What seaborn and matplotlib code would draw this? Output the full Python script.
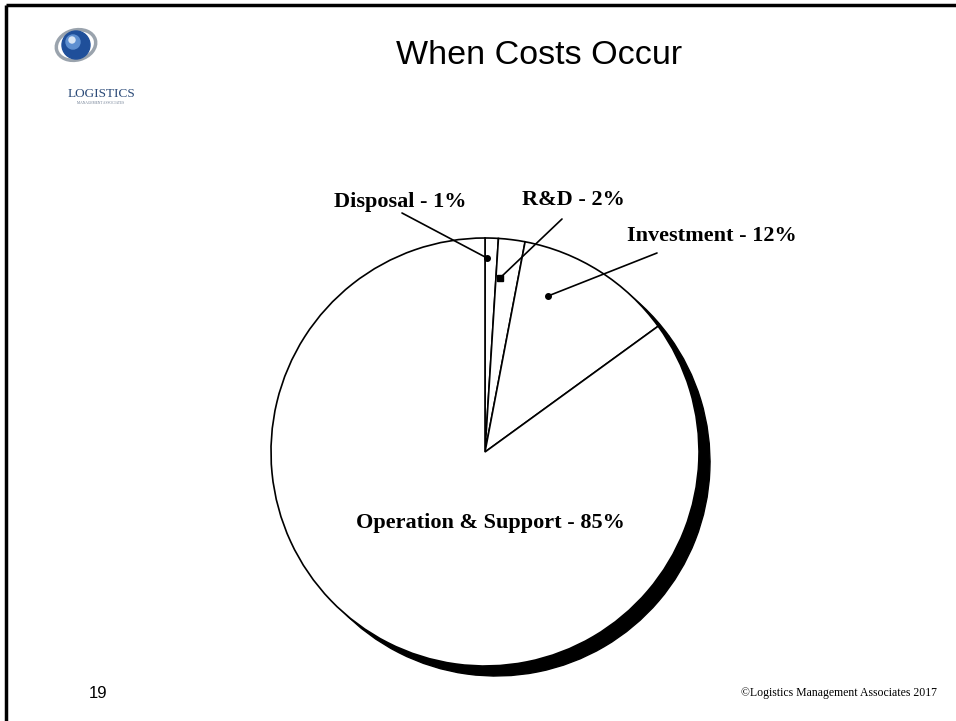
import matplotlib
matplotlib.use("Agg")
import matplotlib.pyplot as plt
import matplotlib.patches as mpatches
import seaborn as sns

# ---- data ----
categories = ["Disposal", "R&D", "Investment", "Operation & Support"]
percent = [1, 2, 12, 85]
title = "When Costs Occur"
slide_number = "19"
copyright_text = "\u00a9Logistics Management Associates 2017"

sns.set_theme(style="white")
plt.rcParams["font.family"] = ["Liberation Sans", "DejaVu Sans"]

W, H = 956, 721
fig = plt.figure(figsize=(W / 100, H / 100), dpi=100)
fig.patch.set_facecolor("white")
ax = fig.add_axes([0, 0, 1, 1])


def px(x, y):
    """pixel (from top-left) -> data coords (y up)"""
    return x, H - y


cx, cy = px(485, 452)
R = 214

# shadow / depth of the pie
ax.pie(percent, startangle=90, counterclock=False, radius=R,
       center=(cx + 11, cy - 10), colors=["black"] * len(percent),
       wedgeprops=dict(edgecolor="black", linewidth=1.0), frame=True)
# main pie
wedges, _ = ax.pie(percent, startangle=90, counterclock=False, radius=R,
                   center=(cx, cy), colors=["white"] * len(percent),
                   wedgeprops=dict(edgecolor="black", linewidth=1.2),
                   frame=True)

ax.set_xlim(0, W)
ax.set_ylim(0, H)
ax.set_aspect("equal")
ax.axis("off")

# labels
serif = ["Liberation Serif", "DejaVu Serif"]
label_pos = [(400, 202), (573, 200), (712, 236), (490, 523)]
for cat, p, (lx, ly) in zip(categories, percent, label_pos):
    ax.text(*px(lx, ly), f"{cat} - {p}%", family=serif, fontweight="bold",
            fontsize=16, ha="center", va="center", color="black")

# leader lines
leaders = [((402, 213), (487, 258), "o"),
           ((562, 219), (500, 278), "s"),
           ((657, 253), (548, 296), "o")]
for (x0, y0), (x1, y1), m in leaders:
    a = px(x0, y0)
    b = px(x1, y1)
    ax.plot([a[0], b[0]], [a[1], b[1]], color="black", lw=1.2)
    ax.plot([b[0]], [b[1]], marker=m, color="black", markersize=4)

# title
ax.text(*px(539, 55), title, fontsize=24.5, ha="center", va="center",
        color="black")

# slide border (top and left)
ax.plot([6, W], [H - 5, H - 5], color="black", lw=2.5, solid_capstyle="butt")
ax.plot([6, 6], [H - 5, 0], color="black", lw=2.5, solid_capstyle="butt")

# logo
gx, gy = px(76, 45)
ax.add_patch(mpatches.Ellipse((gx, gy), 40, 30, fill=False,
                              edgecolor="#9aa3ad", lw=2.5, angle=15))
ax.add_patch(mpatches.Circle((gx, gy), 14, color="#1f4f9a"))
ax.add_patch(mpatches.Circle((gx - 3, gy + 3), 7, color="#5e8fd0"))
ax.add_patch(mpatches.Circle((gx - 4, gy + 5), 3, color="#d9e6f5"))
ax.text(*px(101, 94), "LOGISTICS", family=serif, fontsize=9.5,
        ha="center", va="center", color="#2b4a78")
ax.text(*px(101, 103), "MANAGEMENT ASSOCIATES", family=serif, fontsize=2.6,
        ha="center", va="center", color="#6b7a90")

# footer
ax.text(*px(98, 693), slide_number, fontsize=12, ha="center", va="center",
        color="black")
ax.text(*px(937, 693), copyright_text, family=serif, fontsize=8.5,
        ha="right", va="center", color="black")

fig.savefig("out.png", dpi=100, facecolor="white")
